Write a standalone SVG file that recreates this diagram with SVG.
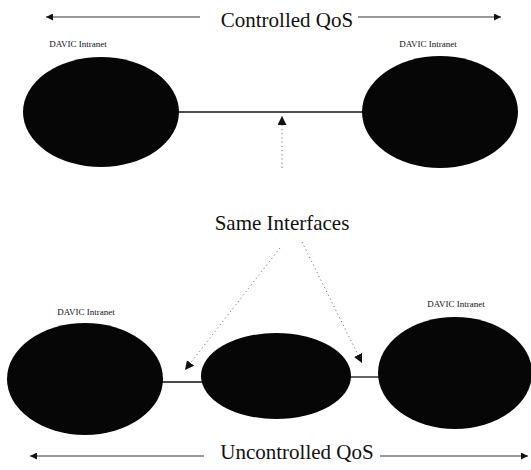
<svg xmlns="http://www.w3.org/2000/svg" width="531" height="470" viewBox="0 0 531 470">
<style>
.t{font-family:"Liberation Serif","Times New Roman",serif;fill:#111}
.big{font-size:21px}
.lbl{font-size:9px}
.net{fill:#060606}
.link{stroke:#111;stroke-width:1.3;fill:none}
.span{stroke:#333;stroke-width:1.2;fill:none}
.dot{stroke:#777;stroke-width:1;stroke-dasharray:1.2,3;fill:none}
</style>
<defs>
<marker id="ah" viewBox="0 0 10 10" refX="10" refY="5" markerWidth="7" markerHeight="7" orient="auto" markerUnits="userSpaceOnUse">
<path d="M0,0 L10,5 L0,10 z" fill="#111"/>
</marker>
<marker id="ah2" viewBox="0 0 10 10" refX="10" refY="5" markerWidth="9" markerHeight="9" orient="auto" markerUnits="userSpaceOnUse">
<path d="M0,0 L10,5 L0,10 z" fill="#111"/>
</marker>
</defs>
<rect width="531" height="470" fill="#fff"/>

<g id="connectors">
<line class="span" x1="200" y1="17" x2="46" y2="17" marker-end="url(#ah)"/>
<line class="span" x1="358" y1="17" x2="501" y2="17" marker-end="url(#ah)"/>
<line class="span" x1="204" y1="456" x2="30" y2="456" marker-end="url(#ah)"/>
<line class="span" x1="380" y1="456" x2="528" y2="456" marker-end="url(#ah)"/>
<line class="link" x1="176" y1="112" x2="364" y2="112"/>
<line class="link" x1="161" y1="382" x2="203" y2="382"/>
<line class="link" x1="350" y1="377" x2="380" y2="377"/>
<line class="dot" x1="282" y1="168" x2="282" y2="116" marker-end="url(#ah2)"/>
<line class="dot" x1="280" y1="248" x2="185" y2="370" marker-end="url(#ah2)"/>
<line class="dot" x1="302" y1="242" x2="362" y2="363" marker-end="url(#ah2)"/>
</g>

<g id="title-top"><text class="t big" x="287" y="27" text-anchor="middle">Controlled QoS</text></g>
<g id="title-bottom"><text class="t big" x="297" y="459" text-anchor="middle">Uncontrolled QoS</text></g>
<g id="same-interfaces"><text class="t big" x="282" y="230" text-anchor="middle">Same Interfaces</text></g>

<g id="net-top-left">
<text class="t lbl" x="78" y="47" text-anchor="middle">DAVIC Intranet</text>
<ellipse class="net" cx="101" cy="112" rx="78" ry="55"/>
</g>
<g id="net-top-right">
<text class="t lbl" x="428" y="47" text-anchor="middle">DAVIC Intranet</text>
<ellipse class="net" cx="440" cy="112" rx="78" ry="56"/>
</g>
<g id="net-bottom-left">
<text class="t lbl" x="86" y="315" text-anchor="middle">DAVIC Intranet</text>
<ellipse class="net" cx="85" cy="379" rx="78" ry="56"/>
</g>
<g id="net-bottom-middle">
<ellipse class="net" cx="276" cy="376" rx="75" ry="43"/>
</g>
<g id="net-bottom-right">
<text class="t lbl" x="456" y="307" text-anchor="middle">DAVIC Intranet</text>
<ellipse class="net" cx="455" cy="373" rx="77" ry="56"/>
</g>
</svg>
